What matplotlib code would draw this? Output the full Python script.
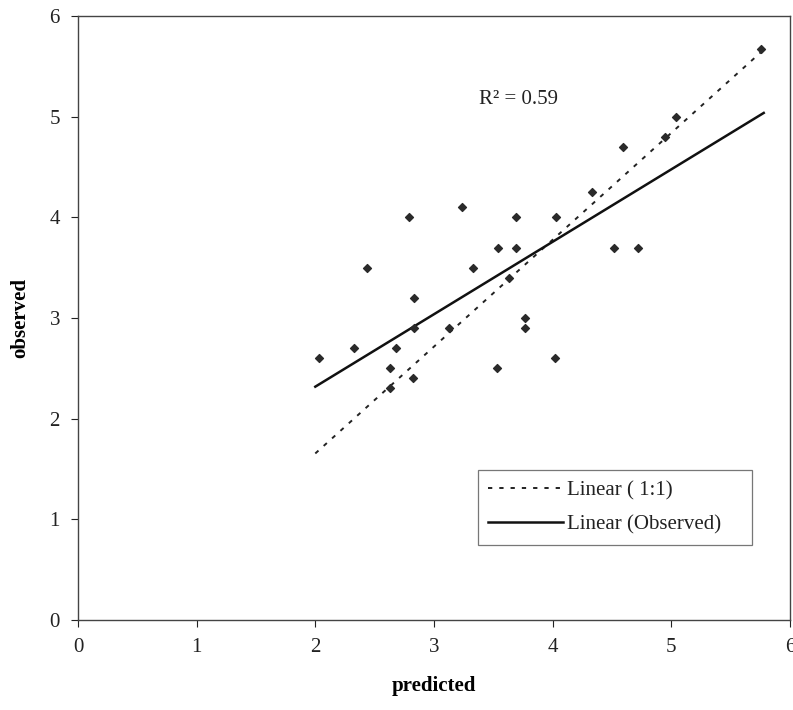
import matplotlib
matplotlib.use("Agg")
import matplotlib.pyplot as plt
import numpy as np

plt.rcParams['font.family'] = ['Liberation Serif', 'DejaVu Serif']

predicted = [2.03, 2.33, 2.44, 2.79, 2.83, 2.83, 2.68, 2.63, 2.82, 2.63,
             3.24, 3.33, 3.13, 3.54, 3.69, 3.69, 3.63, 3.77, 3.77, 3.53,
             4.03, 4.02, 4.33, 4.59, 5.04, 4.95, 4.52, 4.72, 5.76]
observed = [2.6, 2.7, 3.5, 4.0, 3.2, 2.9, 2.7, 2.5, 2.4, 2.3,
            4.1, 3.5, 2.9, 3.7, 3.7, 4.0, 3.4, 3.0, 2.9, 2.5,
            4.0, 2.6, 4.25, 4.7, 5.0, 4.8, 3.7, 3.7, 5.68]

# trend lines (slope, intercept, x-range)
line_names = ['Linear ( 1:1)', 'Linear (Observed)']
line_slopes = [1.062, 0.72]
line_intercepts = [-0.47, 0.878]
line_x = [2.0, 5.78]

fig = plt.figure(figsize=(7.93, 7.10), dpi=100)
ax = fig.add_axes([0.0984, 0.127, 0.8976, 0.85])

ax.scatter(predicted, observed, marker='D', s=16, color='#2a2a2a', zorder=3)

xs = np.array(line_x)
ax.plot(xs, line_slopes[0] * xs + line_intercepts[0], color='#222222',
        lw=1.4, dashes=(2.2, 3.6), label=line_names[0])
ax.plot(xs, line_slopes[1] * xs + line_intercepts[1], color='#111111',
        lw=1.8, label=line_names[1])

ax.set_xlim(0, 6)
ax.set_ylim(0, 6)
ax.set_xticks(range(7))
ax.set_yticks(range(7))
ax.tick_params(direction='out', length=5, width=0.8, labelsize=15, pad=8,
               colors='#222222')
for s in ax.spines.values():
    s.set_linewidth(1.0)
    s.set_color('#444444')

ax.set_xlabel('predicted', fontsize=15, fontweight='bold', labelpad=14)
ax.set_ylabel('observed', fontsize=15, fontweight='bold', labelpad=14)

ax.text(3.71, 5.17, 'R\u00b2 = 0.59', fontsize=15, ha='center', va='center',
        color='#222222')

leg = ax.legend(loc='lower left', bbox_to_anchor=(0.562, 0.124, 0.385, 0.154),
                mode='expand', fontsize=15, frameon=True, fancybox=False,
                edgecolor='#555555', handlelength=3.6, handletextpad=0.15,
                borderpad=0.5, labelspacing=0.7, borderaxespad=0)
leg.get_frame().set_linewidth(0.9)
for t in leg.get_texts():
    t.set_color('#222222')

fig.savefig('out.png', dpi=100)
